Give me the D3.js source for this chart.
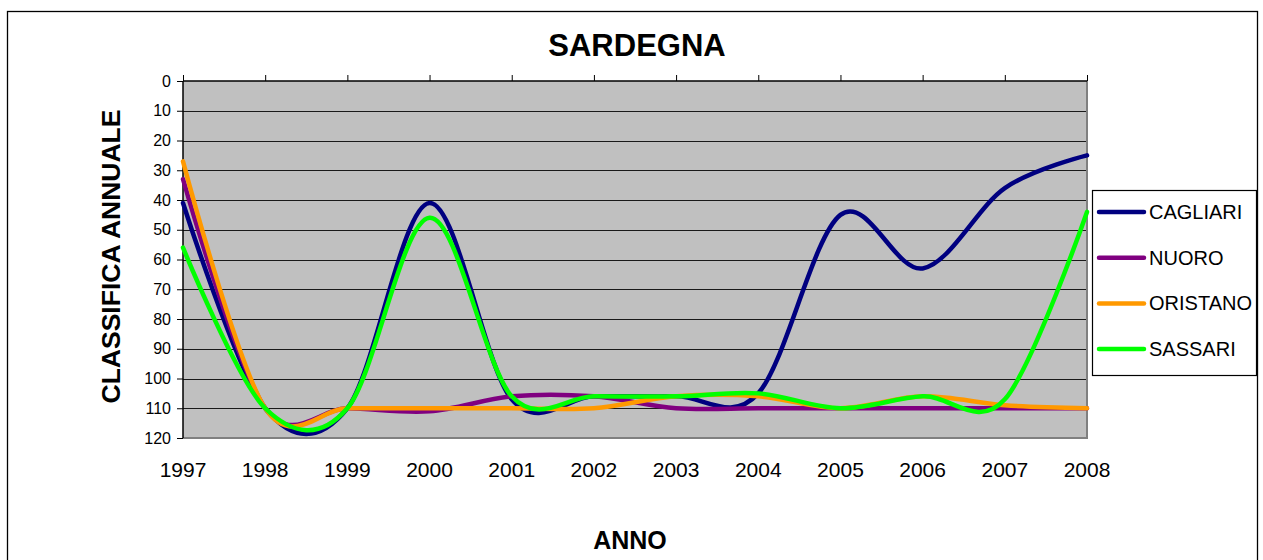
<!DOCTYPE html>
<meta charset="utf-8">
<style>
  body { margin: 0; background: #fff; }
  svg { font-family: "Liberation Sans", Arial, sans-serif; }
  .grid line { stroke: #1a1a1a; stroke-width: 1.2; }
  .axis path { display: none; }
  .axis line { stroke: #000; }
  .series { fill: none; stroke-width: 4.5; stroke-linejoin: round; stroke-linecap: round; }
</style>
<body>
<script src="https://cdn.jsdelivr.net/npm/d3@7"></script>
<script>
  // years on the x axis
  var years = [1997, 1998, 1999, 2000, 2001, 2002, 2003, 2004, 2005, 2006, 2007, 2008];
  var yTicks = [0, 10, 20, 30, 40, 50, 60, 70, 80, 90, 100, 110, 120];

  // yearly rank of each province
  var cagliari = [41, 110, 110, 41, 107, 106, 106, 105, 45, 63, 36, 25];
  var nuoro    = [33, 110, 110, 111, 106, 106, 110, 110, 110, 110, 110, 110];
  var oristano = [27, 110, 110, 110, 110, 110, 106, 106, 110, 106, 109, 110];
  var sassari  = [56, 110, 110, 46, 106, 106, 106, 105, 110, 106, 107, 44];

  var names = ["CAGLIARI", "NUORO", "ORISTANO", "SASSARI"];
  var colors = ["#000080", "#800080", "#FF9900", "#00FF00"];
  var series = [cagliari, nuoro, oristano, sassari];

  var width = 1263, height = 560;
  var plot = { left: 183, right: 1087, top: 81, bottom: 438 };

  var svg = d3.select("body").append("svg")
    .attr("width", width)
    .attr("height", height);

  // outer chart frame
  svg.append("rect")
    .attr("x", 7.5).attr("y", 11.5)
    .attr("width", 1250).attr("height", 600)
    .attr("fill", "#fff").attr("stroke", "#000").attr("stroke-width", 1.3);

  var x = d3.scalePoint()
    .domain(years)
    .range([plot.left, plot.right]);

  // ranks grow downward
  var y = d3.scaleLinear()
    .domain([0, 120])
    .range([plot.top, plot.bottom]);

  // plot area
  svg.append("rect")
    .attr("x", plot.left).attr("y", plot.top)
    .attr("width", plot.right - plot.left)
    .attr("height", plot.bottom - plot.top)
    .attr("fill", "#C0C0C0");

  svg.append("g")
    .attr("class", "grid")
    .selectAll("line")
    .data(yTicks.slice(1, -1))
    .enter().append("line")
    .attr("x1", plot.left).attr("x2", plot.right)
    .attr("y1", function (d) { return Math.round(y(d)) + 0.5; })
    .attr("y2", function (d) { return Math.round(y(d)) + 0.5; });

  // right and bottom edge of the plot area
  svg.append("path")
    .attr("d", "M" + plot.right + "," + plot.top + "V" + plot.bottom + "H" + plot.left)
    .attr("fill", "none").attr("stroke", "#808080").attr("stroke-width", 2);

  // x axis sits at the top (rank 0), labels printed low
  svg.append("g")
    .attr("class", "axis")
    .attr("transform", "translate(0," + plot.top + ")")
    .call(d3.axisTop(x).tickSize(6).tickFormat(""));
  svg.append("line")
    .attr("x1", plot.left).attr("x2", plot.right)
    .attr("y1", plot.top).attr("y2", plot.top)
    .attr("stroke", "#000").attr("stroke-width", 1.5);

  svg.append("g")
    .selectAll("text")
    .data(years)
    .enter().append("text")
    .attr("x", function (d) { return x(d); })
    .attr("y", 477)
    .attr("text-anchor", "middle")
    .attr("font-size", 21)
    .attr("fill", "#000")
    .text(function (d) { return d; });

  var yAxis = svg.append("g")
    .attr("class", "axis")
    .attr("transform", "translate(" + plot.left + ",0)")
    .call(d3.axisLeft(y).tickValues(yTicks).tickSize(6).tickPadding(6));
  yAxis.selectAll("text")
    .attr("font-size", 16)
    .attr("font-family", "'Liberation Sans', Arial, sans-serif")
    .attr("fill", "#000");
  svg.append("line")
    .attr("x1", plot.left).attr("x2", plot.left)
    .attr("y1", plot.top).attr("y2", plot.bottom)
    .attr("stroke", "#000").attr("stroke-width", 1.5);

  var line = d3.line()
    .x(function (d, i) { return x(years[i]); })
    .y(function (d) { return y(d); })
    .curve(d3.curveCardinal.tension(0));

  svg.append("g")
    .selectAll("path")
    .data(series)
    .enter().append("path")
    .attr("class", "series")
    .attr("stroke", function (d, i) { return colors[i]; })
    .attr("d", line);

  // titles
  svg.append("text")
    .attr("x", 637).attr("y", 56)
    .attr("text-anchor", "middle")
    .attr("font-size", 31).attr("font-weight", "bold")
    .text("SARDEGNA");

  svg.append("text")
    .attr("x", 630).attr("y", 549)
    .attr("text-anchor", "middle")
    .attr("font-size", 25).attr("font-weight", "bold")
    .text("ANNO");

  svg.append("text")
    .attr("transform", "translate(120," + ((plot.top + plot.bottom) / 2 - 3) + ") rotate(-90)")
    .attr("text-anchor", "middle")
    .attr("font-size", 26.5).attr("font-weight", "bold")
    .text("CLASSIFICA ANNUALE");

  // legend
  var legend = svg.append("g");
  legend.append("rect")
    .attr("x", 1092.5).attr("y", 190.5)
    .attr("width", 164).attr("height", 185)
    .attr("fill", "#fff").attr("stroke", "#000").attr("stroke-width", 1.2);

  var item = legend.selectAll(".item")
    .data(names)
    .enter().append("g")
    .attr("class", "item")
    .attr("transform", function (d, i) { return "translate(0," + (212 + i * 45.7) + ")"; });

  item.append("line")
    .attr("x1", 1099).attr("x2", 1144)
    .attr("stroke", function (d, i) { return colors[i]; })
    .attr("stroke-width", 4.5)
    .attr("stroke-linecap", "round");

  item.append("text")
    .attr("x", 1149).attr("y", 7)
    .attr("font-size", 20)
    .text(function (d) { return d; });
</script>
</body>
